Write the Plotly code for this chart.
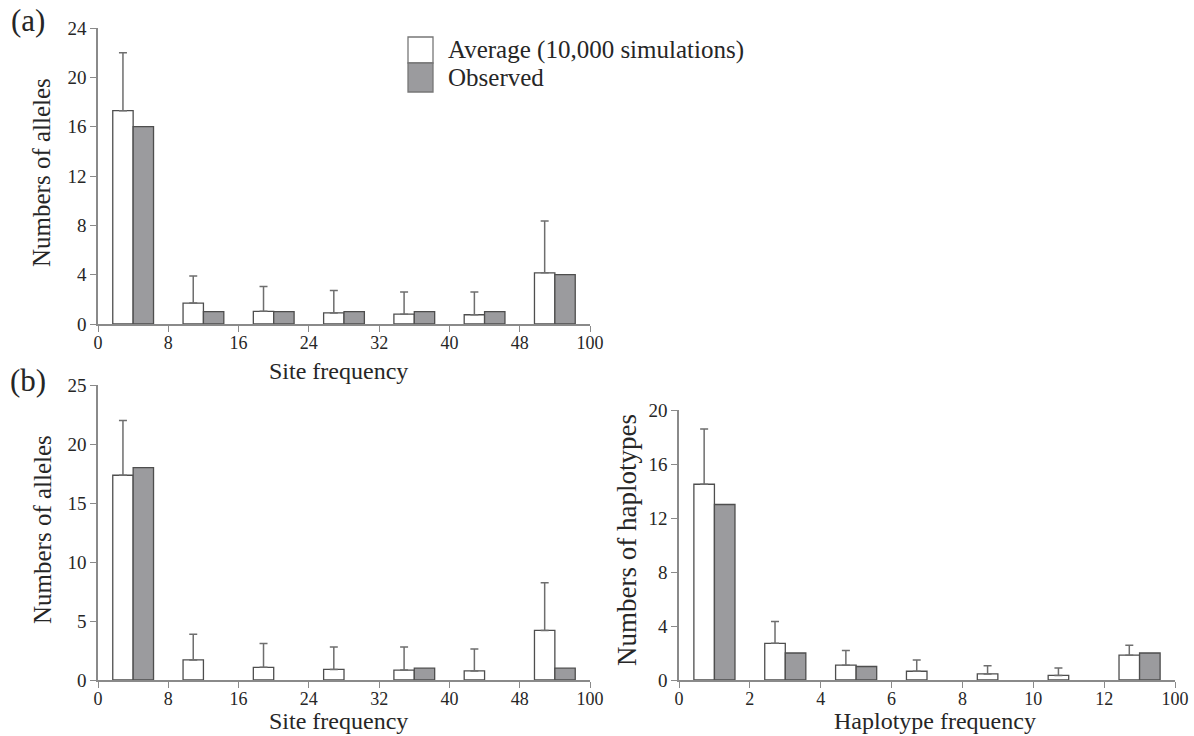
import plotly.graph_objects as go

# ---------------- data ----------------
site_ticks = ["0", "8", "16", "24", "32", "40", "48", "100"]
hap_ticks = ["0", "2", "4", "6", "8", "10", "12", "100"]

a_avg = [17.3, 1.7, 1.03, 0.9, 0.8, 0.75, 4.15]
a_avg_err = [4.7, 2.2, 2.02, 1.82, 1.8, 1.85, 4.2]
a_obs = [16, 1, 1, 1, 1, 1, 4]

b_avg = [17.35, 1.7, 1.07, 0.9, 0.84, 0.77, 4.2]
b_avg_err = [4.65, 2.18, 2.02, 1.9, 1.96, 1.85, 4.05]
b_obs = [18, 0, 0, 0, 1, 0, 1]

h_avg = [14.5, 2.72, 1.1, 0.65, 0.45, 0.34, 1.84]
h_avg_err = [4.1, 1.62, 1.08, 0.83, 0.61, 0.54, 0.74]
h_obs = [13, 2, 1, 0, 0, 0, 2]

centers = [0.5, 1.5, 2.5, 3.5, 4.5, 5.5, 6.5]

# ---------------- style ----------------
W, H = 1194, 736
FONT = "Liberation Serif"
TXT = "#262626"
AXC = "#8a8a8a"
GREY = "#9b9b9e"
EDGE = "#4e4e4e"
ERR = "#6e6e6e"


def px_x(p):
    return p / W


def px_y(p):
    return 1 - p / H


def nz(vals):
    # zero-height bars are not drawn in the reference
    return [v if v else None for v in vals]


fig = go.Figure()

panels = [
    ("", a_avg, a_avg_err, a_obs, site_ticks, 24, 4, (98, 590), (324, 28)),
    ("2", b_avg, b_avg_err, b_obs, site_ticks, 25, 5, (98, 590), (680, 385)),
    ("3", h_avg, h_avg_err, h_obs, hap_ticks, 20, 4, (679, 1175), (680, 410)),
]

for ax, avg, err, obs, tt, ymax, dt, xd, yd in panels:
    xa = "x" + ax
    ya = "y" + ax
    fig.add_trace(go.Bar(
        x=centers, y=avg, xaxis=xa, yaxis=ya, name="Average (10,000 simulations)",
        marker=dict(color="white", line=dict(color=EDGE, width=1.3)),
        error_y=dict(type="data", symmetric=False, array=err,
                     arrayminus=[0] * len(err), color=ERR, thickness=1.5, width=4),
        showlegend=False, offsetgroup="avg",
    ))
    fig.add_trace(go.Bar(
        x=centers, y=nz(obs), xaxis=xa, yaxis=ya, name="Observed",
        marker=dict(color=GREY, line=dict(color=EDGE, width=1.3)),
        showlegend=False, offsetgroup="obs",
    ))
    common = dict(
        showline=True, linecolor=AXC, linewidth=1.5, ticks="outside",
        ticklen=6, tickcolor=AXC, tickwidth=1.2, showgrid=False, zeroline=False,
        fixedrange=True, automargin=False,
    )
    fig.layout["xaxis" + ax] = dict(
        domain=[px_x(xd[0]), px_x(xd[1])], range=[0, 7], anchor=ya,
        tickmode="array", tickvals=list(range(8)), ticktext=tt,
        ticklabelstandoff=-4,
        tickfont=dict(family=FONT, size=18, color=TXT),
        **common,
    )
    fig.layout["yaxis" + ax] = dict(
        domain=[px_y(yd[0]), px_y(yd[1])], range=[0, ymax], anchor=xa,
        tickmode="linear", tick0=0, dtick=dt,
        tickfont=dict(family=FONT, size=19, color=TXT),
        **common,
    )

annos = [
    dict(text="(a)", x=px_x(28), y=px_y(20), size=31),
    dict(text="(b)", x=px_x(28), y=px_y(380), size=31),
    dict(text="Site frequency", x=px_x(338), y=px_y(371), size=24),
    dict(text="Numbers of alleles", x=px_x(42), y=px_y(173), size=25, angle=-90),
    dict(text="Numbers of alleles", x=px_x(42), y=px_y(530), size=25, angle=-90),
    dict(text="Numbers of haplotypes", x=px_x(627), y=px_y(540), size=27, angle=-90),
]
for a in annos:
    fig.add_annotation(
        text=a["text"], x=a["x"], y=a["y"], xref="paper", yref="paper",
        showarrow=False, xanchor="center", yanchor="middle",
        textangle=a.get("angle", 0),
        font=dict(family=FONT, size=a["size"], color=TXT),
    )

# bottom row x-axis titles, anchored to the bottom edge of the figure
for txt, cx in [("Site frequency", 338), ("Haplotype frequency", 935)]:
    fig.add_annotation(
        text=txt, x=px_x(cx), y=0, xref="paper", yref="paper",
        showarrow=False, xanchor="center", yanchor="bottom",
        font=dict(family=FONT, size=24, color=TXT),
    )

# legend (swatches + text)
fig.add_shape(type="rect", xref="paper", yref="paper",
              x0=px_x(408), x1=px_x(433), y0=px_y(63), y1=px_y(37),
              fillcolor="white", line=dict(color="#777777", width=1.3))
fig.add_shape(type="rect", xref="paper", yref="paper",
              x0=px_x(408), x1=px_x(433), y0=px_y(92), y1=px_y(63),
              fillcolor=GREY, line=dict(color="#777777", width=1.3))
fig.add_annotation(text="Average (10,000 simulations)", x=px_x(446), y=px_y(50),
                   xref="paper", yref="paper", showarrow=False, xanchor="left",
                   yanchor="middle", font=dict(family=FONT, size=25, color=TXT))
fig.add_annotation(text="Observed", x=px_x(446), y=px_y(78),
                   xref="paper", yref="paper", showarrow=False, xanchor="left",
                   yanchor="middle", font=dict(family=FONT, size=25, color=TXT))

fig.update_layout(
    width=W, height=H, margin=dict(l=0, r=0, t=0, b=0),
    paper_bgcolor="white", plot_bgcolor="white",
    barmode="group", bargap=0.42, bargroupgap=0,
    showlegend=False, template="none",
)

fig.write_html(
    "out.html", config={"displayModeBar": False},
    post_script="document.body.style.margin='0px';document.body.style.overflow='hidden';",
)
